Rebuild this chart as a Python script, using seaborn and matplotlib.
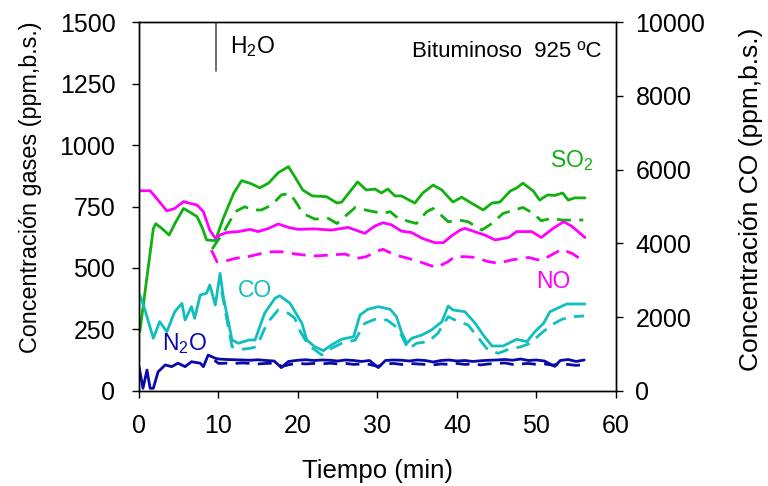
import numpy as np
import pandas as pd
import matplotlib
matplotlib.use("Agg")
import matplotlib.pyplot as plt
import seaborn as sns

# ---------------- data ----------------
t_so2 = [0.1, 1.8, 2.1, 2.9, 3.8, 4.5, 5.6, 6.5, 7.3, 8.0, 8.5, 9.6, 10.6, 11.9, 12.9, 14.0,
         15.2, 16.3, 17.5, 18.8, 19.6, 20.6, 21.8, 23.6, 24.9, 25.5, 27.5, 28.6, 29.7, 30.5,
         31.3, 32.2, 33.0, 34.7, 35.7, 37.0, 38.1, 39.5, 40.6, 41.6, 43.3, 44.4, 45.4, 46.7,
         47.5, 48.3, 49.6, 50.4, 51.4, 52.3, 53.3, 54.0, 54.8, 56.1]
so2_solid = [241, 660, 680, 660, 634, 680, 742, 725, 709, 660, 614, 611, 702, 803, 855, 844,
             826, 845, 887, 912, 871, 817, 793, 790, 764, 768, 850, 817, 821, 805,
             821, 793, 793, 764, 805, 837, 817, 768, 788, 768, 736, 764, 768, 813,
             825, 845, 813, 776, 797, 795, 805, 776, 785, 785]

t_so2_d = [9.2, 10.8, 12.1, 13.3, 14.2, 15.4, 16.7, 17.9, 19.0, 20.0, 20.6, 22.1, 23.8, 24.9,
           25.9, 27.2, 28.2, 29.5, 30.7, 31.6, 32.6, 34.1, 34.9, 36.2, 37.0, 38.0, 38.9, 40.2,
           41.4, 43.1, 44.4, 45.8, 47.3, 48.3, 49.6, 50.6, 51.9, 53.2, 54.4, 55.9]
so2_dash = [577, 654, 729, 749, 736, 736, 756, 797, 803, 755, 722, 699, 702, 681,
            709, 746, 738, 729, 722, 729, 702, 688, 681, 729, 742, 715, 688, 695,
            688, 654, 681, 722, 736, 746, 722, 692, 702, 695, 695, 695]

t_no = [0.1, 1.4, 2.4, 3.5, 4.5, 5.6, 6.4, 7.3, 8.1, 8.9, 9.6, 10.2, 11.0, 12.5, 14.0, 15.0,
        16.3, 17.5, 18.8, 20.0, 22.1, 24.2, 26.3, 28.4, 29.7, 30.7, 31.8, 33.0, 34.3, 35.6,
        37.2, 38.3, 39.3, 40.4, 41.0, 43.5, 44.8, 46.5, 47.5, 49.4, 50.6, 52.1, 53.4, 54.4, 56.1]
no_solid = [814, 814, 776, 732, 742, 770, 763, 756, 729, 654, 621, 634, 644, 648, 657, 648,
            661, 679, 665, 657, 659, 654, 665, 641, 671, 684, 675, 650, 644, 621,
            603, 603, 630, 654, 661, 634, 614, 624, 648, 648, 624, 661, 688, 671, 624]

t_no_d = [9.1, 9.8, 10.6, 12.1, 13.7, 15.4, 16.7, 17.9, 19.2, 20.7, 22.1, 24.2, 25.9, 27.4,
          28.6, 29.7, 30.7, 32.2, 33.9, 35.6, 37.4, 38.9, 39.7, 41.0, 42.3, 43.9, 45.2, 46.9,
          49.0, 50.6, 51.3, 53.2, 54.6, 56.0]
no_dash = [573, 526, 526, 539, 546, 559, 566, 566, 559, 553, 549, 553, 557, 539,
           546, 566, 576, 553, 539, 522, 502, 526, 546, 546, 543, 526, 519, 533,
           543, 530, 543, 576, 557, 526]

t_co = [0.1, 0.75, 1.8, 2.6, 3.5, 4.5, 5.4, 5.8, 6.6, 7.0, 7.7, 8.5, 8.9, 9.6, 10.2, 10.6,
        11.2, 11.7, 12.5, 13.8, 14.6, 15.8, 17.1, 17.7, 19.0, 20.0, 20.5, 21.1, 22.1, 23.2,
        24.2, 25.5, 27.0, 27.8, 28.8, 30.1, 31.6, 32.4, 33.0, 33.7, 34.3, 35.6, 36.8, 38.1,
        38.9, 39.5, 41.0, 42.3, 43.3, 44.4, 45.8, 47.5, 48.8, 49.8, 50.9, 51.7, 53.8, 56.1]
co_solid = [2602, 2195, 1428, 1878, 1607, 2149, 2376, 1924, 2285, 1970, 2602, 2648, 2873, 2331, 3190, 2556,
            1924, 1382, 1293, 1382, 1382, 2106, 2512, 2583, 2377, 2014, 1834, 1382, 1201, 1092,
            1247, 1401, 1472, 2060, 2214, 2285, 2214, 2014, 1607, 1293, 1428, 1518, 1653, 1878,
            2303, 2195, 2149, 1834, 1518, 1220, 1220, 1401, 1337, 1607, 1834, 2149, 2358, 2358]

t_co_d = [10.4, 11.0, 11.7, 12.9, 14.0, 14.8, 16.1, 17.5, 18.8, 19.6, 20.3, 21.3, 23.0, 24.2,
          25.5, 27.2, 28.4, 29.7, 31.2, 32.6, 33.5, 33.9, 34.9, 36.4, 37.6, 38.9, 40.2, 41.4,
          42.9, 43.9, 45.2, 46.5, 48.1, 49.2, 50.6, 51.9, 53.2, 54.6, 56.0]
co_dash = [2700, 2000, 1201, 1130, 1157, 1201, 1834, 2195, 2106, 1970, 1607, 1247, 976, 1157,
           1293, 1382, 1834, 1943, 1924, 1699, 1293, 1130, 1293, 1337, 1563, 2014, 1878, 1789,
           1382, 1111, 1022, 1130, 1201, 1293, 1563, 1789, 1943, 2014, 2033]

t_n2o = [0.0, 0.5, 1.0, 1.4, 1.8, 2.4, 3.3, 4.1, 4.9, 5.8, 6.6, 7.7, 8.1, 8.7, 9.6, 10, 11, 12,
         13, 14, 15, 16, 17, 17.9, 18.8, 20, 21, 22, 23, 24, 25, 26, 27, 28, 29, 30.1, 31, 32,
         33, 34, 35, 36, 37, 38, 39, 40, 41, 42, 43, 44, 45, 46, 47, 48, 49, 50, 51, 52.3, 53,
         54, 55, 56]
n2o_solid = [99, 11, 85, 11, 11, 78, 106, 99, 113, 99, 119, 113, 99, 146, 133, 130, 128, 127,
             126, 125, 127, 124, 122, 95, 120, 125, 127, 124, 126, 125, 122, 126, 124, 120, 124, 95, 124, 126,
             125, 122, 126, 124, 118, 124, 126, 122, 124, 120, 123, 125, 126, 128, 125, 130, 124, 126, 122, 100, 124,
             128, 120, 126]

t_n2o_d = [9.5, 10, 11, 12, 13, 14, 15, 16, 17, 18, 19, 20, 21, 22, 23, 24, 25, 26, 27, 28, 29,
           30, 31, 32, 33, 34, 35, 36, 37, 38, 39, 40, 41, 42, 43, 44, 45, 46, 47, 48, 49, 50,
           51, 52, 53, 54, 55, 56]
n2o_dash = [125, 112, 113, 112, 114, 112, 110, 112, 113, 100, 108, 112, 110, 112, 110, 113, 110,
            112, 108, 110, 108, 100, 110, 112, 108, 112, 110, 108, 106, 110, 108, 112, 108, 110,
            106, 110, 112, 114, 108, 110, 112, 108, 110, 105, 110, 108, 104, 108]

x_ticks = [0, 10, 20, 30, 40, 50, 60]
y_ticks = [0, 250, 500, 750, 1000, 1250, 1500]
y2_ticks = [0, 2000, 4000, 6000, 8000, 10000]

# ---------------- style ----------------
sns.set_theme(style="ticks")
plt.rcParams["font.family"] = ["Liberation Sans", "DejaVu Sans"]
plt.rcParams["mathtext.default"] = "regular"
plt.rcParams["text.color"] = "black"
plt.rcParams["axes.labelcolor"] = "black"

GREEN = "#10B010"
MAGENTA = "#FF00FF"
CYAN = "#10BEBE"
NAVY = "#0A0AA8"

fig = plt.figure(figsize=(7.68, 4.86), dpi=100)
ax = fig.add_axes([0.181, 0.1955, 0.621, 0.7592])
ax2 = ax.twinx()

lw = 2.0
dash = (5, 3)

def draw(axis, t, v, color, dashed=False):
    df = pd.DataFrame({"t": t, "v": v})
    sns.lineplot(data=df, x="t", y="v", ax=axis, color=color, linewidth=lw,
                 estimator=None, sort=False, legend=False)
    if dashed:
        axis.lines[-1].set_dashes(dash)

draw(ax, t_so2, so2_solid, GREEN)
draw(ax, t_so2_d, so2_dash, GREEN, True)
draw(ax, t_no, no_solid, MAGENTA)
draw(ax, t_no_d, no_dash, MAGENTA, True)
draw(ax, t_n2o, n2o_solid, NAVY)
draw(ax, t_n2o_d, n2o_dash, NAVY, True)
draw(ax2, t_co, co_solid, CYAN)
draw(ax2, t_co_d, co_dash, CYAN, True)

ax.set_xlim(0, 60)
ax.set_ylim(0, 1500)
ax2.set_ylim(0, 10000)
ax.set_xticks(x_ticks)
ax.set_yticks(y_ticks)
ax2.set_yticks(y2_ticks)

fs = 18
ax.tick_params(axis="x", labelsize=fs, direction="out", length=5, width=1,
               color="black", labelcolor="black", pad=11.5)
ax.tick_params(axis="y", labelsize=fs, direction="out", length=5, width=1,
               color="black", labelcolor="black", pad=12)
ax2.tick_params(axis="y", labelsize=fs, direction="out", length=5, width=1,
                color="black", labelcolor="black", pad=9)
for a in (ax, ax2):
    for s in a.spines.values():
        s.set_color("black")
        s.set_linewidth(1.0)
        s.set_visible(True)

ax.set_xlabel("Tiempo (min)", fontsize=18.5, labelpad=15, color="black")
ax.set_ylabel("Concentración gases (ppm,b.s.)", fontsize=16.8, color="black")
ax2.set_ylabel("Concentración CO (ppm,b.s.)", fontsize=19, color="black")
ax.yaxis.set_label_coords(-0.203, 0.553)
ax2.yaxis.set_label_coords(1.258, 0.52)

# annotations
tfs = 16.5
ax.plot([9.7, 9.7], [1300, 1500], color="#555555", lw=1.2)
ax.text(11.5, 1375, "H$_2$O", fontsize=tfs, color="black", va="baseline")
ax.text(34.4, 1359, "Bituminoso  925 ºC", fontsize=16, color="black", va="baseline")
ax.text(51.7, 912, "SO$_2$", fontsize=tfs, color=GREEN, va="baseline")
ax.text(49.9, 417, "NO", fontsize=tfs, color=MAGENTA, va="baseline")
ax.text(12.5, 381, "CO", fontsize=tfs, color=CYAN, va="baseline")
ax.text(2.85, 167, "N$_2$O", fontsize=tfs, color=NAVY, va="baseline")

fig.savefig("out.png", dpi=100)
